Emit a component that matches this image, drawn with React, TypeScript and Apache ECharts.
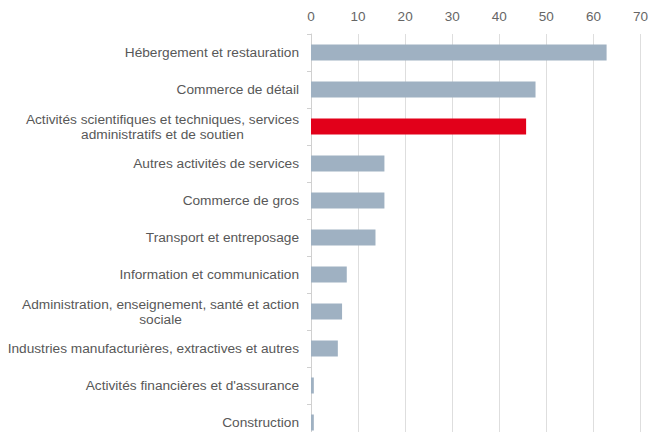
import React, { useEffect, useRef } from "react";
import * as echarts from "echarts";

const categories = [
  "Hébergement et restauration",
  "Commerce de détail",
  "Activités scientifiques et techniques, services\nadministratifs et de soutien",
  "Autres activités de services",
  "Commerce de gros",
  "Transport et entreposage",
  "Information et communication",
  "Administration, enseignement, santé et action\nsociale",
  "Industries manufacturières, extractives et autres",
  "Activités financières et d'assurance",
  "Construction",
];
const values = [62.8, 47.7, 45.7, 15.6, 15.6, 13.7, 7.6, 6.6, 5.7, 0.6, 0.6];
const highlightIndex = 2;
const baseColor = "#9fb1c2";
const highlightColor = "#e2001a";

export default function App() {
  const ref = useRef<HTMLDivElement>(null);
  useEffect(() => {
    const chart = echarts.init(ref.current!, undefined, { renderer: "svg" });
    chart.setOption({
      animation: false,
      grid: { left: 311, right: 7, top: 34, bottom: 0, containLabel: false },
      xAxis: {
        type: "value",
        position: "top",
        min: 0,
        max: 70,
        interval: 10,
        axisLine: { show: false },
        axisTick: { show: false },
        axisLabel: { color: "#666", fontSize: 13.5, margin: 11, fontFamily: "Liberation Sans" },
        splitLine: { show: true, lineStyle: { color: "#dedede", width: 1 } },
      },
      yAxis: {
        type: "category",
        inverse: true,
        data: categories,
        axisLine: { show: true, lineStyle: { color: "#d0d0d0" } },
        axisTick: { show: true, length: 4, lineStyle: { color: "#d0d0d0" } },
        axisLabel: {
          color: "#585858",
          fontSize: 13.7,
          margin: 12,
          align: "right",
          fontFamily: "Liberation Sans",
          formatter: (v: string) =>
            v
              .split("\n")
              .map((l) => "{c|" + l + "}")
              .join("\n"),
          rich: {
            c: {
              align: "center",
              color: "#585858",
              fontSize: 13.7,
              lineHeight: 15,
              fontFamily: "Liberation Sans",
            },
          },
        },
      },
      series: [
        {
          type: "bar",
          barWidth: 16,
          data: values.map((v, i) => ({
            value: v,
            itemStyle: { color: i === highlightIndex ? highlightColor : baseColor },
          })),
        },
      ],
    });
    return () => chart.dispose();
  }, []);
  return (
    <div style={{ width: 651, height: 432, position: "absolute", left: 0, top: 0, overflow: "hidden" }}>
      <div ref={ref} style={{ width: 651, height: 441 }} />
    </div>
  );
}
